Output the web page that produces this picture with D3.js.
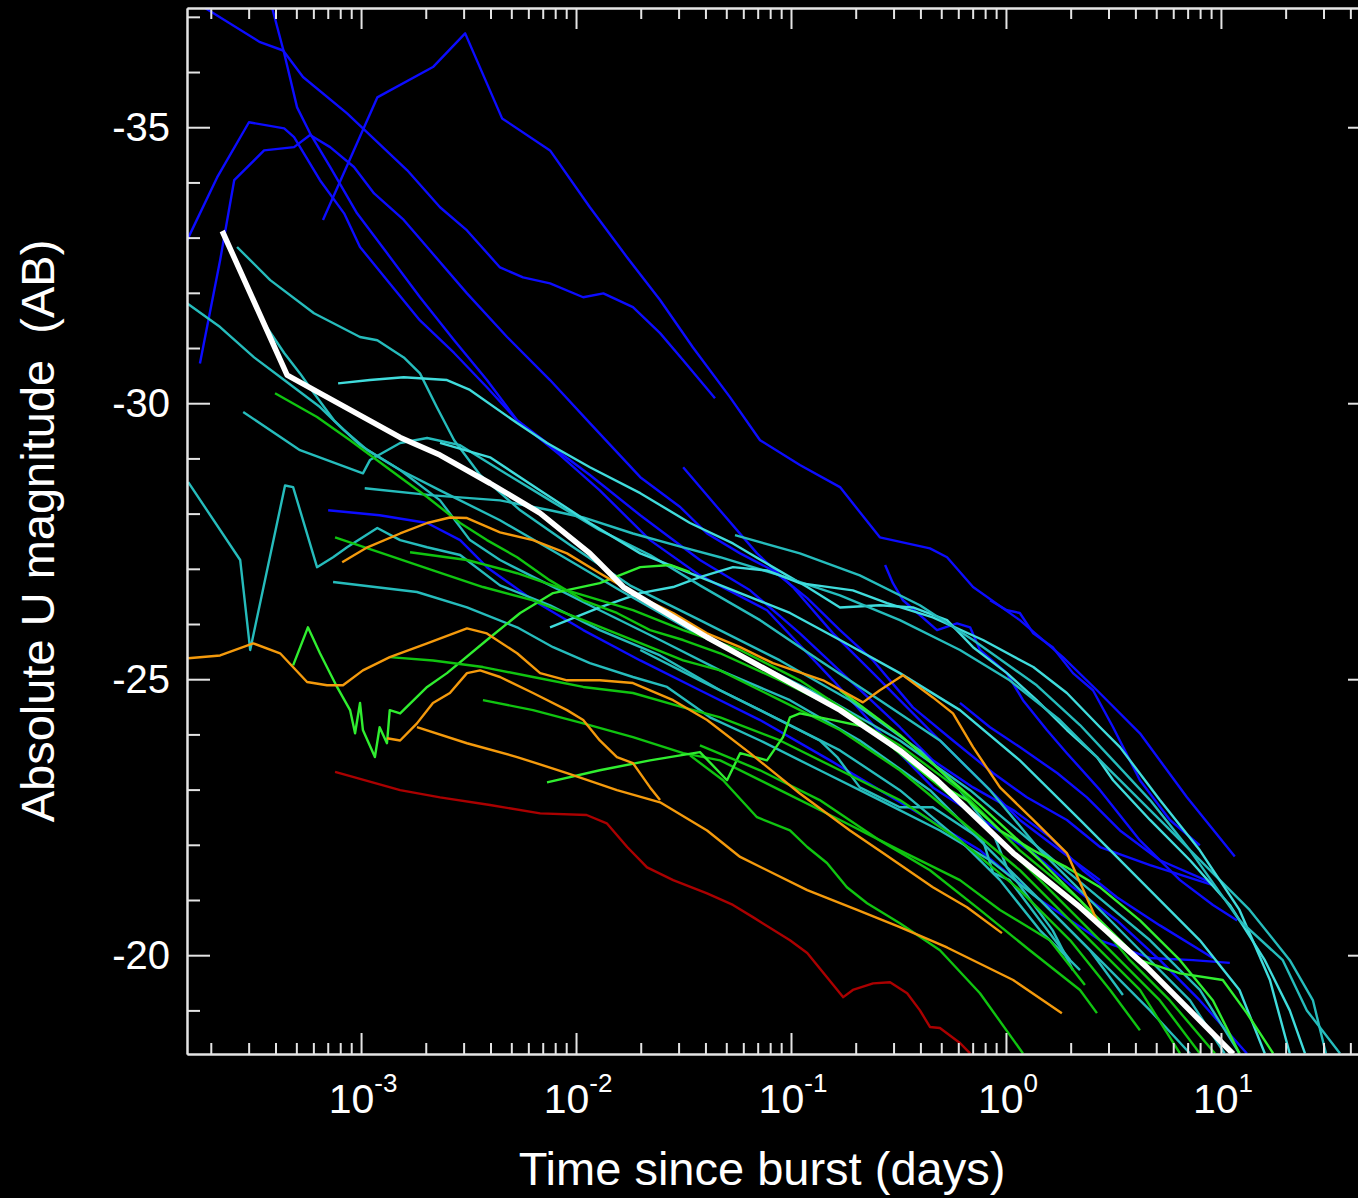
<!DOCTYPE html>
<html>
<head>
<meta charset="utf-8">
<script src="https://cdn.jsdelivr.net/npm/d3@7"></script>
<style>
  body { margin: 0; background: #000; }
  svg { display: block; }
</style>
</head>
<body>
<div id="chart"></div>
<script>
// ---------------------------------------------------------------- data
// each light curve: [time since burst (days), absolute U magnitude (AB)]
const mean = [[2.26e-4,-33.12],[4.53e-4,-30.51],[1.52e-3,-29.38],[2.33e-3,-29.06],[3.98e-3,-28.55],[6.8e-3,-28.01],[0.0116,-27.28],[0.0166,-26.67],[0.0238,-26.30],[0.0407,-25.76],[0.0824,-25.11],[0.169,-24.44],[0.321,-23.71],[0.478,-23.17],[1.08,-21.85],[2.21,-20.87],[4.53,-19.78],[11.4,-18.21]];

const blue1 = [[1.88e-4,-37.16],[3.39e-4,-36.54],[4.34e-4,-36.39],[5.37e-4,-35.91],[8.61e-4,-35.25],[1.64e-3,-34.22],[2.33e-3,-33.55],[3.11e-3,-33.13],[4.43e-3,-32.46],[5.67e-3,-32.28],[7.57e-3,-32.17],[0.0108,-31.92],[0.0134,-31.99],[0.0184,-31.74],[0.0246,-31.27],[0.0315,-30.78],[0.0443,-30.09]];
const blue2 = [[6.65e-4,-33.32],[1.19e-3,-35.54],[2.16e-3,-36.09],[3.05e-3,-36.70],[4.53e-3,-35.16],[7.57e-3,-34.58],[0.0116,-33.55],[0.0173,-32.64],[0.0246,-31.87],[0.035,-31.01],[0.052,-30.11],[0.0718,-29.33],[0.110,-28.88],[0.169,-28.48],[0.259,-27.57],[0.443,-27.37],[0.532,-27.21],[0.703,-26.67],[1.16,-26.07],[1.84,-25.40],[2.65,-24.80],[4.2,-24.02],[6.95,-22.86],[11.6,-21.79]];
const blue3 = [[3.86e-4,-37.16],[4.39e-4,-36.34],[5.04e-4,-35.36],[5.79e-4,-34.89],[7.18e-4,-34.28],[9.58e-4,-33.44],[1.32e-3,-32.72],[1.88e-3,-31.92],[2.71e-3,-31.14],[3.85e-3,-30.42],[5.32e-3,-29.69],[7.57e-3,-29.24],[0.0116,-28.70],[0.0199,-27.97],[0.0377,-27.16],[0.0645,-26.61],[0.110,-25.83],[0.188,-24.98],[0.321,-24.13],[0.457,-23.53],[0.703,-23.04],[1.08,-22.63],[1.60,-22.14],[2.28,-21.54],[3.28,-21.05],[5.20,-20.54],[9.18,-19.95]];
const blue4 = [[1.78e-4,-30.72],[2.21e-4,-32.59],[2.57e-4,-34.04],[3.54e-4,-34.58],[4.88e-4,-34.64],[5.79e-4,-34.86],[7.18e-4,-34.64],[9.27e-4,-34.28],[1.15e-3,-33.80],[1.58e-3,-33.32],[2.09e-3,-32.77],[3.11e-3,-31.99],[4.78e-3,-31.20],[7.57e-3,-30.42],[0.0116,-29.64],[0.0199,-28.66],[0.0305,-28.12],[0.0407,-27.64],[0.058,-27.28],[0.0824,-26.97],[0.119,-26.47],[0.169,-25.89],[0.241,-25.34],[0.369,-24.49],[0.567,-23.89],[0.871,-23.30],[1.25,-22.86],[1.92,-22.45],[2.74,-21.96],[4.68,-21.63],[9.18,-21.27]];
const blue5 = [[1.55e-4,-32.95],[2.14e-4,-34.09],[3.01e-4,-35.09],[4.39e-4,-34.98],[4.88e-4,-34.82],[6.44e-4,-34.04],[8.34e-4,-33.44],[9.89e-4,-32.83],[1.36e-3,-32.17],[1.88e-3,-31.50],[2.71e-3,-30.91],[3.85e-3,-30.29],[5.32e-3,-29.69],[8.43e-3,-29.06],[0.0129,-28.42],[0.0221,-27.52],[0.0377,-26.88],[0.0773,-26.25],[0.157,-24.98],[0.280,-23.89],[0.457,-23.04],[0.782,-22.45],[1.34,-21.85],[2.05,-21.23],[3.28,-20.63],[5.20,-19.91],[7.98,-19.18],[13.2,-18.22]];
const blue6 = [[7.03e-4,-28.06],[1.22e-3,-27.97],[2.03e-3,-27.83],[2.89e-3,-27.52],[3.85e-3,-27.03],[6.31e-3,-26.43],[0.0108,-25.89],[0.0199,-25.34],[0.0377,-24.80],[0.0718,-24.26],[0.152,-23.53],[0.259,-22.99],[0.443,-22.45],[0.757,-21.90],[1.44,-21.00],[2.74,-20.27],[4.68,-19.95],[7.41,-19.91],[11.0,-19.86]];
const blue7 = [[0.274,-27.07],[0.298,-26.74],[0.332,-26.43],[0.478,-25.89],[0.592,-26.01],[0.681,-25.94],[0.757,-25.53],[1.01,-25.11],[1.20,-24.62],[1.55,-24.08],[1.92,-23.66],[2.74,-22.99],[4.20,-22.08],[6.45,-21.36],[9.18,-20.91],[11.9,-20.63]];
const blue8 = [[0.611,-24.57],[0.843,-24.13],[1.16,-23.77],[1.73,-23.30],[2.38,-22.86],[3.39,-22.26],[5.20,-21.72],[9.18,-21.30]];
const blue9 = [[0.843,-26.43],[1.01,-26.25],[1.16,-26.20],[1.34,-25.83],[1.65,-25.58],[2.05,-25.11],[2.54,-24.80],[3.15,-24.13],[4.20,-23.17],[5.79,-22.45],[7.98,-21.99]];
const blue10 = [[0.0315,-28.84],[0.0453,-28.12],[0.0695,-27.28],[0.102,-26.67],[0.157,-25.83],[0.241,-25.11],[0.321,-24.62],[0.493,-23.89],[0.757,-23.17],[1.16,-22.45],[1.78,-21.90],[2.74,-21.36]];

const cyan1 = [[2.65e-4,-32.83],[3.78e-4,-32.23],[6.04e-4,-31.63],[9.89e-4,-31.20],[1.19e-3,-31.14],[1.58e-3,-30.83],[1.88e-3,-30.54],[2.25e-3,-29.93],[2.71e-3,-29.33],[3.58e-3,-28.70],[5.50e-3,-28.06],[9.38e-3,-27.43],[0.0178,-26.70],[0.0377,-26.07],[0.0889,-25.34],[0.188,-24.62],[0.398,-23.71],[0.611,-22.99],[0.871,-22.21],[1.01,-21.59],[1.20,-21.18],[1.65,-20.45],[2.05,-19.73]];
const cyan2 = [[1.55e-4,-31.81],[2.21e-4,-31.38],[3.18e-4,-30.83],[4.39e-4,-30.42],[6.44e-4,-29.93],[8.34e-4,-29.51],[1.07e-3,-29.15],[1.52e-3,-28.79],[2.33e-3,-28.24],[3.21e-3,-27.52],[4.43e-3,-27.16],[6.81e-3,-26.79],[0.0129,-26.25],[0.0246,-25.71],[0.0468,-25.16],[0.0989,-24.62],[0.209,-23.89],[0.443,-22.99],[0.843,-21.90],[1.44,-21.00],[2.46,-20.09],[3.50,-19.28]];
const cyan3 = [[7.82e-4,-30.36],[1.10e-3,-30.42],[1.58e-3,-30.47],[2.51e-3,-30.42],[3.21e-3,-30.24],[5.32e-3,-29.64],[7.33e-3,-29.28],[0.0116,-28.84],[0.0199,-28.37],[0.0339,-27.83],[0.0537,-27.46],[0.0824,-27.03],[0.119,-26.67],[0.169,-26.30],[0.259,-26.34],[0.369,-26.30],[0.532,-26.07],[0.703,-25.58],[1.01,-25.11],[1.39,-24.62],[1.92,-24.08],[2.65,-23.59],[3.15,-23.17],[4.68,-22.45],[7.18,-21.72],[11.0,-20.91],[16.0,-19.91],[20.9,-19.00],[24.6,-18.22]];
const cyan4 = [[1.57e-4,-28.57],[2.74e-4,-27.16],[3.05e-4,-25.53],[4.43e-4,-28.51],[4.83e-4,-28.48],[6.24e-4,-27.03],[7.41e-4,-27.21],[8.61e-4,-27.39],[1.19e-3,-27.74],[1.52e-3,-27.52],[2.03e-3,-27.39],[2.89e-3,-27.25],[4.43e-3,-26.70],[7.57e-3,-26.34],[0.0129,-25.89],[0.0246,-25.43],[0.0468,-24.80],[0.0889,-24.26],[0.169,-23.71],[0.321,-22.99],[0.611,-22.08],[0.938,-21.36],[1.44,-20.45],[2.21,-19.73]];
const cyan5 = [[7.41e-4,-26.76],[1.82e-3,-26.58],[3.11e-3,-26.30],[5.32e-3,-25.94],[7.82e-3,-25.58],[0.0116,-25.29],[0.0184,-25.04],[0.0265,-24.86],[0.042,-24.31],[0.0718,-23.89],[0.136,-23.35],[0.259,-22.81],[0.493,-22.26],[0.843,-21.72],[1.44,-21.00],[2.74,-19.91],[4.68,-19.00],[7.18,-18.22]];
const cyan6 = [[1.04e-3,-28.46],[2.16e-3,-28.33],[4.43e-3,-28.24],[7.57e-3,-28.06],[0.0108,-27.93],[0.0184,-27.64],[0.0315,-27.39],[0.0468,-27.21],[0.0889,-26.88],[0.169,-26.52],[0.321,-26.07],[0.611,-25.53],[1.04,-24.98],[1.78,-24.26],[3.05,-23.35],[5.20,-22.45],[8.89,-21.54],[13.6,-20.82],[20.9,-19.91],[26.8,-19.18],[30.8,-18.22]];
const cyan7 = [[7.57e-3,-25.94],[0.0129,-26.30],[0.0199,-26.56],[0.0283,-26.67],[0.0377,-26.85],[0.0537,-27.03],[0.0773,-26.97],[0.110,-26.74],[0.194,-26.61],[0.280,-26.38],[0.457,-26.12],[0.782,-25.71],[1.34,-25.22],[1.92,-24.75],[2.74,-24.13],[3.39,-23.77],[5.20,-22.81],[7.98,-21.90],[12.2,-20.82],[16.9,-19.55],[20.9,-18.22]];
const cyan8 = [[2.83e-4,-29.84],[5.2e-4,-29.15],[1.02e-3,-28.73],[1.10e-3,-28.97],[1.52e-3,-29.28],[2.03e-3,-29.37],[2.89e-3,-29.24],[4.43e-3,-28.79],[7.57e-3,-28.24],[0.0129,-27.70],[0.0221,-27.25],[0.0377,-26.70],[0.0718,-26.07],[0.136,-25.34],[0.259,-24.62],[0.493,-23.89],[0.843,-22.99],[1.44,-21.90],[2.46,-21.00],[4.20,-20.09],[7.18,-19.18],[10.4,-18.22]];
const cyan9 = [[0.0549,-27.61],[0.110,-27.28],[0.209,-26.88],[0.398,-26.34],[0.703,-25.71],[1.39,-24.89],[2.21,-24.17],[3.15,-23.53],[4.68,-22.81],[7.18,-21.90],[12.2,-20.63],[19.4,-19.91],[25.1,-19.00],[35.8,-18.22]];
const cyan10 = [[0.0199,-25.53],[0.0377,-24.98],[0.0718,-24.44],[0.136,-23.89],[0.164,-23.59],[0.209,-23.04],[0.321,-22.68],[0.457,-22.68],[0.782,-22.08],[0.871,-21.49],[1.04,-21.36],[1.44,-20.63],[1.99,-19.91]];
const cyan11 = [[2.33e-3,-29.28],[3.98e-3,-29.02],[6.81e-3,-28.42],[0.0116,-27.83],[0.0199,-27.28],[0.0339,-26.92],[0.058,-26.56],[0.0989,-26.20],[0.169,-25.71],[0.321,-25.11],[0.611,-24.44],[1.16,-23.53],[2.21,-22.45],[4.20,-21.36],[7.98,-20.27],[12.2,-19.37],[16.0,-18.22]];
const cyan12 = [[3.47e-4,-31.50],[4.39e-4,-30.91],[5.2e-4,-30.54],[6.04e-4,-30.18],[7.48e-4,-29.69],[9.89e-4,-29.24],[1.52e-3,-28.79],[2.33e-3,-28.42],[4.43e-3,-27.88],[8.43e-3,-27.25],[0.016,-26.61],[0.0339,-25.89],[0.0718,-25.25],[0.152,-24.62],[0.321,-23.89],[0.681,-22.99],[1.29,-22.08],[2.46,-21.18],[4.68,-20.27],[7.98,-19.37],[12.2,-18.22]];

const green1 = [[3.98e-4,-30.18],[6.24e-4,-29.75],[8.89e-4,-29.33],[1.52e-3,-28.66],[2.03e-3,-28.30],[2.89e-3,-27.83],[3.85e-3,-27.52],[5.32e-3,-27.21],[7.57e-3,-26.79],[0.0108,-26.43],[0.0155,-26.20],[0.0221,-25.89],[0.0315,-25.71],[0.0468,-25.47],[0.0889,-24.98],[0.169,-24.44],[0.321,-23.80],[0.611,-22.99],[1.16,-21.90],[2.21,-21.00],[3.77,-19.91],[5.79,-19.18],[9.38,-18.22]];
const green2 = [[4.83e-4,-25.25],[5.66e-4,-25.94],[6.44e-4,-25.47],[7.73e-4,-24.86],[8.89e-4,-24.44],[9.38e-4,-24.02],[9.89e-4,-24.57],[1.02e-3,-24.08],[1.16e-3,-23.59],[1.22e-3,-24.13],[1.32e-3,-23.84],[1.36e-3,-24.44],[1.52e-3,-24.38],[2.03e-3,-24.86],[2.51e-3,-25.11],[3.85e-3,-25.71],[5.50e-3,-26.20],[7.82e-3,-26.56],[0.0129,-26.74],[0.0199,-27.03],[0.0274,-27.07],[0.0339,-26.94]];
const green3 = [[7.57e-4,-27.57],[1.26e-3,-27.28],[2.16e-3,-26.97],[3.69e-3,-26.67],[6.31e-3,-26.43],[0.0108,-26.07],[0.0184,-25.71],[0.0315,-25.34],[0.0468,-25.16],[0.0889,-24.62],[0.169,-24.08],[0.321,-23.35],[0.611,-22.45],[1.16,-21.54],[2.21,-20.45],[4.20,-19.37],[6.45,-18.22]];
const green4 = [[1.69e-3,-27.30],[3.11e-3,-27.16],[5.32e-3,-26.92],[9.08e-3,-26.61],[0.0184,-26.25],[0.0315,-25.89],[0.058,-25.53],[0.110,-24.98],[0.209,-24.26],[0.398,-23.35],[0.757,-22.45],[1.44,-21.36],[2.74,-20.27],[5.20,-19.18],[7.98,-18.22]];
const green5 = [[1.36e-3,-25.40],[2.16e-3,-25.34],[3.69e-3,-25.22],[6.31e-3,-25.04],[0.0108,-24.86],[0.0184,-24.75],[0.0315,-24.49],[0.0468,-24.31],[0.0889,-23.89],[0.169,-23.35],[0.321,-22.81],[0.611,-22.08],[1.16,-21.18],[1.99,-20.27],[3.05,-19.37],[4.20,-18.64]];
const green6 = [[3.69e-3,-24.62],[6.31e-3,-24.44],[0.0108,-24.20],[0.0184,-23.95],[0.0315,-23.66],[0.0468,-23.53],[0.0889,-22.99],[0.169,-22.45],[0.321,-21.90],[0.611,-21.36],[0.938,-20.82],[1.60,-20.27],[2.33,-19.46]];
const green7 = [[7.33e-3,-23.13],[0.0129,-23.35],[0.0221,-23.53],[0.0377,-23.68],[0.0504,-23.17],[0.058,-23.66],[0.0773,-23.53],[0.0918,-23.95],[0.0989,-24.31],[0.110,-24.38],[0.157,-24.26],[0.226,-24.13],[0.321,-23.66],[0.457,-23.17],[0.659,-22.81],[0.938,-22.26],[1.34,-21.90],[1.92,-21.59],[2.74,-21.23],[4.20,-20.63],[6.45,-19.91],[9.18,-19.18],[12.2,-18.22]];
const green8 = [[0.0339,-23.62],[0.0483,-23.17],[0.0695,-22.50],[0.0989,-22.26],[0.119,-21.96],[0.147,-21.67],[0.182,-21.23],[0.226,-20.94],[0.321,-20.58],[0.493,-20.09],[0.757,-19.31],[1.20,-18.22]];
const green9 = [[0.0377,-23.80],[0.0718,-23.35],[0.136,-22.81],[0.259,-22.08],[0.443,-21.54],[0.757,-20.82],[1.29,-20.09],[2.21,-19.37],[2.65,-18.95]];
const green10 = [[0.169,-24.80],[0.321,-23.99],[0.493,-23.35],[0.757,-22.72],[1.44,-21.72],[2.74,-20.63],[4.20,-19.91],[6.45,-19.67],[10.2,-19.55],[13.2,-18.95],[17.5,-18.22]];

const orange1 = [[1.57e-4,-25.38],[2.21e-4,-25.43],[3.15e-4,-25.65],[4.20e-4,-25.47],[5.61e-4,-24.95],[6.95e-4,-24.89],[8.24e-4,-24.89],[1.02e-3,-25.16],[1.36e-3,-25.40],[2.03e-3,-25.65],[3.11e-3,-25.92],[3.85e-3,-25.83],[5.32e-3,-25.47],[6.81e-3,-25.11],[9.08e-3,-24.98],[0.0129,-24.98],[0.0184,-24.93],[0.0283,-24.62],[0.0407,-24.26],[0.0645,-23.66],[0.110,-22.93],[0.188,-22.26],[0.268,-21.85],[0.457,-21.23],[0.659,-20.87],[0.958,-20.40]];
const orange2 = [[8.17e-4,-27.12],[1.07e-3,-27.39],[1.52e-3,-27.64],[2.03e-3,-27.83],[2.59e-3,-27.93],[3.11e-3,-27.92],[4.43e-3,-27.66],[6.31e-3,-27.52],[9.08e-3,-27.28],[0.0129,-26.92],[0.0199,-26.49],[0.0283,-26.20],[0.0407,-25.83],[0.058,-25.58],[0.0824,-25.29],[0.141,-24.98],[0.216,-24.58],[0.259,-24.80],[0.332,-25.07],[0.457,-24.67],[0.567,-24.38],[0.703,-23.77],[0.938,-23.04],[1.34,-22.45],[1.92,-21.85],[2.65,-20.63]];
const orange3 = [[1.32e-3,-23.93],[1.52e-3,-23.89],[1.82e-3,-24.20],[2.16e-3,-24.57],[2.59e-3,-24.75],[3.11e-3,-25.11],[3.58e-3,-25.16],[4.43e-3,-25.04],[6.31e-3,-24.75],[9.08e-3,-24.44],[0.0108,-24.26],[0.0129,-23.89],[0.0155,-23.59],[0.0184,-23.48],[0.0221,-23.04],[0.0246,-22.81]];
const orange4 = [[1.82e-3,-24.13],[3.11e-3,-23.84],[5.32e-3,-23.59],[9.08e-3,-23.30],[0.0155,-22.99],[0.0246,-22.77],[0.0407,-22.26],[0.058,-21.78],[0.119,-21.18],[0.203,-20.82],[0.321,-20.51],[0.532,-20.14],[1.08,-19.55],[1.82,-18.95]];

const red1 = [[7.57e-4,-23.32],[1.52e-3,-22.99],[2.33e-3,-22.86],[3.98e-3,-22.72],[6.81e-3,-22.57],[0.0112,-22.54],[0.0139,-22.39],[0.0173,-21.96],[0.0214,-21.59],[0.0283,-21.36],[0.0407,-21.12],[0.0537,-20.91],[0.0665,-20.69],[0.0989,-20.27],[0.119,-20.04],[0.175,-19.24],[0.194,-19.37],[0.241,-19.49],[0.289,-19.51],[0.347,-19.31],[0.398,-19.00],[0.443,-18.70],[0.493,-18.68],[0.611,-18.41],[0.681,-18.22]];

// axis ticks
const xMajor = [1e-3, 1e-2, 1e-1, 1, 10];
const xExponents = ["-3", "-2", "-1", "0", "1"];
const yMajor = [-35, -30, -25, -20];
const yMinor = [-37, -36, -34, -33, -32, -31, -29, -28, -27, -26, -24, -23, -22, -21, -19];

// ---------------------------------------------------------------- styles
const BLUE = "#0c0cff", CYAN = "#26bcbc", CYAN_L = "#40dcdc",
      GREEN = "#10c410", GREEN_L = "#30ee30", ORANGE = "#f49a0c", RED = "#aa0000";

const series = [
  { data: blue1, color: BLUE }, { data: blue2, color: BLUE }, { data: blue3, color: BLUE },
  { data: blue4, color: BLUE }, { data: blue5, color: BLUE }, { data: blue6, color: BLUE },
  { data: blue7, color: BLUE }, { data: blue8, color: BLUE }, { data: blue9, color: BLUE },
  { data: blue10, color: BLUE },
  { data: cyan1, color: CYAN }, { data: cyan2, color: CYAN }, { data: cyan3, color: CYAN_L },
  { data: cyan4, color: CYAN }, { data: cyan5, color: CYAN }, { data: cyan6, color: CYAN },
  { data: cyan7, color: CYAN_L }, { data: cyan8, color: CYAN }, { data: cyan9, color: CYAN },
  { data: cyan10, color: CYAN }, { data: cyan11, color: CYAN_L }, { data: cyan12, color: CYAN },
  { data: green1, color: GREEN }, { data: green2, color: GREEN_L }, { data: green3, color: GREEN },
  { data: green4, color: GREEN }, { data: green5, color: GREEN }, { data: green6, color: GREEN },
  { data: green7, color: GREEN_L }, { data: green8, color: GREEN }, { data: green9, color: GREEN },
  { data: green10, color: GREEN_L },
  { data: orange1, color: ORANGE }, { data: orange2, color: ORANGE },
  { data: orange3, color: ORANGE }, { data: orange4, color: ORANGE },
  { data: red1, color: RED }
];

// ---------------------------------------------------------------- chart
const W = 1358, H = 1198;
const plotL = 187, plotR = 1371, plotT = 8, plotB = 1054;
const AXIS = "#e4e4e4";
const FONT = "'Liberation Sans', Arial, Helvetica, sans-serif";

const svg = d3.select("#chart").append("svg")
  .attr("width", W).attr("height", H)
  .style("background", "#000");

const x = d3.scaleLog().domain([1.55e-4, 49.9]).range([plotL, plotR]);
const y = d3.scaleLinear().domain([-37.16, -18.21]).range([plotT, plotB]);

svg.append("clipPath").attr("id", "plotArea")
  .append("rect")
  .attr("x", plotL).attr("y", plotT)
  .attr("width", plotR - plotL).attr("height", plotB - plotT);

const line = d3.line().x(d => x(d[0])).y(d => y(d[1]));

const curves = svg.append("g").attr("clip-path", "url(#plotArea)");

curves.selectAll("path.curve")
  .data(series)
  .join("path")
  .attr("class", "curve")
  .attr("d", d => line(d.data))
  .attr("fill", "none")
  .attr("stroke", d => d.color)
  .attr("stroke-width", 2.4)
  .attr("stroke-linejoin", "round");

// mean curve on top
curves.append("path")
  .attr("d", line(mean))
  .attr("fill", "none")
  .attr("stroke", "#ffffff")
  .attr("stroke-width", 5.5)
  .attr("stroke-linejoin", "round");

// minor x ticks (2..9 per decade), kept inside the domain
const xMinor = [];
[1e-4, 1e-3, 1e-2, 1e-1, 1, 10].forEach(dec => {
  for (let k = 2; k <= 9; k++) {
    const v = dec * k;
    if (v > x.domain()[0] && v < x.domain()[1]) xMinor.push(v);
  }
});

function styleAxis(sel) {
  sel.select(".domain").attr("stroke", AXIS).attr("stroke-width", 2);
  sel.selectAll(".tick line").attr("stroke", AXIS).attr("stroke-width", 2);
  sel.selectAll(".tick text").remove();
}

// bottom + top
svg.append("g").attr("transform", `translate(0,${plotB})`)
  .call(d3.axisBottom(x).tickValues(xMinor).tickSize(-11).tickSizeOuter(0).tickFormat(""))
  .call(styleAxis);
svg.append("g").attr("transform", `translate(0,${plotB})`)
  .call(d3.axisBottom(x).tickValues(xMajor).tickSize(-21).tickSizeOuter(0).tickFormat(""))
  .call(styleAxis);
svg.append("g").attr("transform", `translate(0,${plotT})`)
  .call(d3.axisTop(x).tickValues(xMinor).tickSize(-11).tickSizeOuter(0).tickFormat(""))
  .call(styleAxis);
svg.append("g").attr("transform", `translate(0,${plotT})`)
  .call(d3.axisTop(x).tickValues(xMajor).tickSize(-21).tickSizeOuter(0).tickFormat(""))
  .call(styleAxis);

// left + right
svg.append("g").attr("transform", `translate(${plotL},0)`)
  .call(d3.axisLeft(y).tickValues(yMinor).tickSize(-13).tickSizeOuter(0).tickFormat(""))
  .call(styleAxis);
svg.append("g").attr("transform", `translate(${plotL},0)`)
  .call(d3.axisLeft(y).tickValues(yMajor).tickSize(-23).tickSizeOuter(0).tickFormat(""))
  .call(styleAxis);
svg.append("g").attr("transform", `translate(${plotR},0)`)
  .call(d3.axisRight(y).tickValues(yMinor).tickSize(-13).tickSizeOuter(0).tickFormat(""))
  .call(styleAxis);
svg.append("g").attr("transform", `translate(${plotR},0)`)
  .call(d3.axisRight(y).tickValues(yMajor).tickSize(-23).tickSizeOuter(0).tickFormat(""))
  .call(styleAxis);

// y tick labels
svg.append("g").selectAll("text")
  .data(yMajor)
  .join("text")
  .attr("x", 170)
  .attr("y", d => y(d) + 14)
  .attr("text-anchor", "end")
  .attr("fill", "#ffffff")
  .style("font-family", FONT)
  .style("font-size", "40px")
  .text(d => d);

// x tick labels: 10 with superscript exponent
const xl = svg.append("g").selectAll("text")
  .data(xMajor)
  .join("text")
  .attr("x", d => x(d) + 2)
  .attr("y", 1113)
  .attr("text-anchor", "middle")
  .attr("fill", "#ffffff")
  .style("font-family", FONT)
  .style("font-size", "41px");
xl.append("tspan").text("10");
xl.append("tspan")
  .attr("dy", -21)
  .style("font-size", "26px")
  .text((d, i) => xExponents[i]);

// axis titles
svg.append("text")
  .attr("x", 762).attr("y", 1185)
  .attr("text-anchor", "middle")
  .attr("fill", "#ffffff")
  .style("font-family", FONT)
  .style("font-size", "47px")
  .text("Time since burst (days)");

svg.append("text")
  .attr("transform", "translate(54,531) rotate(-90)")
  .attr("text-anchor", "middle")
  .attr("fill", "#ffffff")
  .style("font-family", FONT)
  .style("font-size", "47px")
  .style("white-space", "pre")
  .text("Absolute U magnitude  (AB)");
</script>
</body>
</html>
